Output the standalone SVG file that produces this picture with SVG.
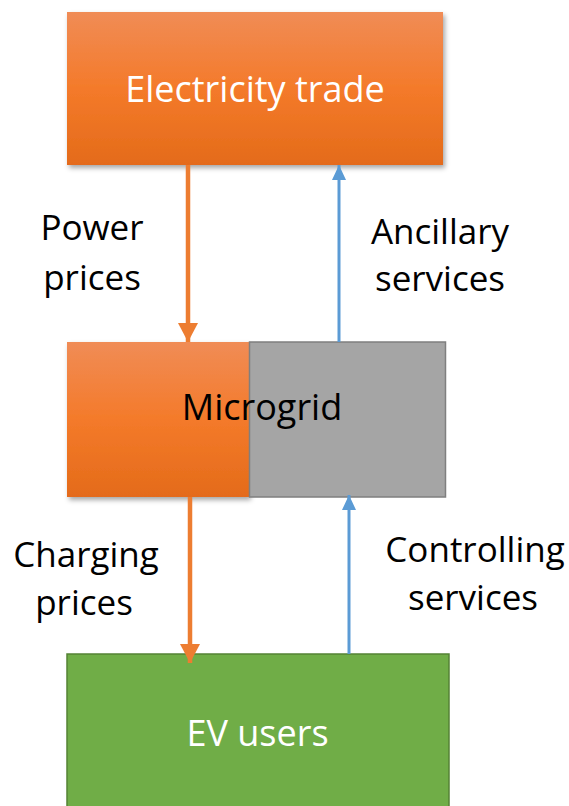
<svg xmlns="http://www.w3.org/2000/svg" width="569" height="806" viewBox="0 0 569 806">
  <defs>
    <linearGradient id="gOrange" x1="0" y1="0" x2="0" y2="1">
      <stop offset="0" stop-color="#F08C56"/>
      <stop offset="0.5" stop-color="#F47A2A"/>
      <stop offset="1" stop-color="#E46B1A"/>
    </linearGradient>
    <filter id="shadow" x="-10%" y="-10%" width="125%" height="130%">
      <feDropShadow dx="2" dy="3" stdDeviation="2.5" flood-color="#000" flood-opacity="0.35"/>
    </filter>
    <marker id="headOrange" markerUnits="userSpaceOnUse" markerWidth="22" markerHeight="20" refX="19" refY="10" orient="auto">
      <path d="M0,0 L19,10 L0,20 Z" fill="#ED7D31"/>
    </marker>
    <marker id="headBlue" markerUnits="userSpaceOnUse" markerWidth="18" markerHeight="16" refX="15" refY="7" orient="auto">
      <path d="M0,0 L15,7 L0,14 Z" fill="#5B9BD5"/>
    </marker>
  </defs>
  <style>
    .lbl { font-family: "Open Sans", "Liberation Sans", sans-serif; font-size: 35px; fill: #000; text-anchor: middle; }
    .ttl { font-family: "Open Sans", "Liberation Sans", sans-serif; font-size: 36px; text-anchor: middle; }
    .white { fill: #FFFFFF; }
    .black { fill: #000000; }
    .orangeArrow { stroke: #ED7D31; stroke-width: 4.5; fill: none; }
    .blueArrow { stroke: #5B9BD5; stroke-width: 3; fill: none; }
  </style>

  <g id="electricity-trade">
    <rect x="67" y="12" width="376" height="153" fill="url(#gOrange)" filter="url(#shadow)"/>
    <text class="ttl white" x="255" y="102">Electricity trade</text>
  </g>

  <g id="microgrid">
    <rect x="67" y="342" width="182" height="155" fill="url(#gOrange)" filter="url(#shadow)"/>
    <rect x="249.5" y="342" width="196" height="155" fill="#A5A5A5" stroke="#7F7F7F" stroke-width="1.5"/>
    <text class="ttl black" x="262" y="420">Microgrid</text>
  </g>

  <g id="ev-users">
    <rect x="67" y="654" width="382" height="160" fill="#70AD47" stroke="#548235" stroke-width="1.5"/>
    <text class="ttl white" x="257.5" y="746">EV users</text>
  </g>

  <g id="connectors">
    <line class="orangeArrow" x1="188" y1="165" x2="188" y2="342" marker-end="url(#headOrange)"/>
    <line class="blueArrow" x1="339" y1="342" x2="339" y2="165" marker-end="url(#headBlue)"/>
    <line class="orangeArrow" x1="190" y1="497" x2="190" y2="663" marker-end="url(#headOrange)"/>
    <line class="blueArrow" x1="349" y1="654" x2="349" y2="495" marker-end="url(#headBlue)"/>
  </g>

  <g id="labels">
    <text class="lbl" x="92" y="240">Power</text>
    <text class="lbl" x="92" y="290">prices</text>
    <text class="lbl" x="440" y="244">Ancillary</text>
    <text class="lbl" x="440" y="291">services</text>
    <text class="lbl" x="86" y="567">Charging</text>
    <text class="lbl" x="84" y="615">prices</text>
    <text class="lbl" x="475" y="562">Controlling</text>
    <text class="lbl" x="473" y="610">services</text>
  </g>
</svg>
